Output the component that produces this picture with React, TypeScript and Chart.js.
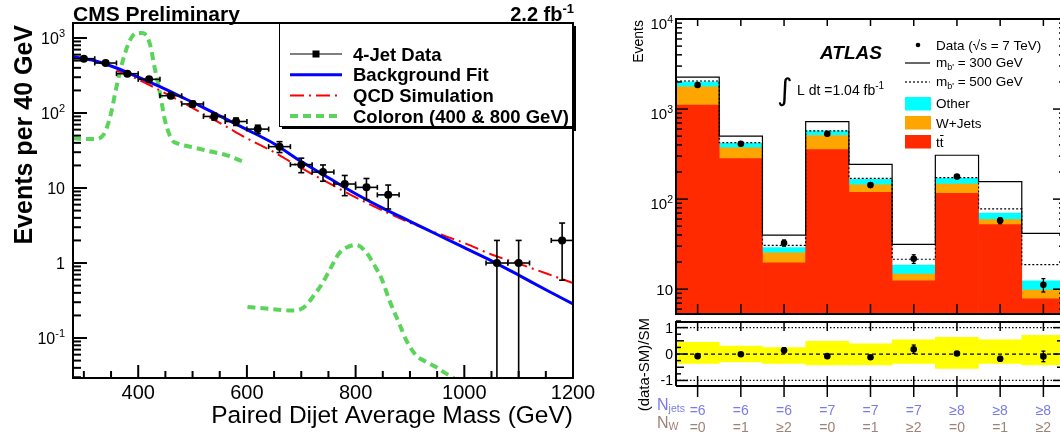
import React, { useEffect, useRef } from 'react';
import { Chart, registerables } from 'chart.js';

Chart.register(...registerables);

// ================= CMS panel data =================
const cmsMass = [300, 340, 380, 420, 460, 500, 540, 580, 620, 660, 700, 740, 780, 820, 860, 1060, 1100, 1180];
const cmsEvents = [530, 464, 334, 281, 170, 132, 90, 77, 61, 35.6, 20.5, 16.3, 11.3, 10.2, 8.1, 1, 1, 2];
const cmsEventErr = [23, 21.5, 18.3, 16.8, 13, 11.5, 9.5, 8.8, 7.8, 5.9, 4.5, 4.0, 3.4, 3.2, 2.85, 1, 1, 1.41];
const cmsBinWidth = 40;

const fitMass = [280, 320, 360, 400, 440, 480, 520, 560, 600, 650, 700, 750, 800, 850, 900, 950, 1000, 1050, 1100, 1150, 1200];
const fitEvents = [563, 498, 398, 301, 224, 163, 118, 84, 60, 39, 22.5, 13.7, 8.4, 5.4, 3.6, 2.4, 1.6, 1.07, 0.69, 0.44, 0.284];

const qcdMass = [360, 400, 440, 480, 520, 560, 600, 650, 700, 750, 800, 850, 900, 950, 1000, 1050, 1100, 1150, 1200];
const qcdEvents = [370, 280, 200, 140, 97, 67, 46, 30, 18.5, 11.7, 7.5, 5.0, 3.45, 2.5, 1.85, 1.3, 0.98, 0.73, 0.54];

const coloron400Mass = [280, 300, 320, 335, 348, 360, 372, 385, 397, 408, 421, 430, 440, 449, 462, 476, 500, 530, 562, 596];
const coloron400Events = [46, 45, 45, 50, 87, 222, 508, 940, 1170, 1170, 855, 410, 185, 81, 44, 38.5, 35, 31, 27.5, 22];

const coloron800Mass = [601, 640, 685, 706, 722, 739, 755, 770, 785, 801, 819, 834, 849, 862, 880, 893, 911, 930, 948, 965, 978, 992];
const coloron800Events = [0.26, 0.245, 0.232, 0.26, 0.36, 0.54, 0.88, 1.36, 1.63, 1.74, 1.4, 0.95, 0.59, 0.32, 0.158, 0.094, 0.059, 0.048, 0.041, 0.034, 0.03, 0.025];

const cmsMassRange = [280, 1200];
const cmsEventRange = [0.0293, 1585];
const cmsTitle = 'CMS Preliminary';
const cmsLumi = '2.2 fb';
const cmsLumiExp = '-1';
const cmsXTitle = 'Paired Dijet Average Mass (GeV)';
const cmsYTitle = 'Events per 40 GeV';

// ================= ATLAS panel data =================
const nJets = ['=6', '=6', '=6', '=7', '=7', '=7', '≥8', '≥8', '≥8'];
const nW = ['=0', '=1', '≥2', '=0', '=1', '≥2', '=0', '=1', '≥2'];
const ttbar = [1107, 282, 19.6, 354, 119, 12.4, 116, 52, 7.8];
const wJets = [653, 88, 5.7, 155, 25, 2.3, 31, 7.3, 2.0];
const otherBkg = [240, 47, 3.7, 60, 22, 3.8, 23, 10.7, 2.6];
const sig300 = [2265, 501, 39.9, 724, 242.5, 31.5, 307, 156, 41.6];
const sig500 = [2048, 423, 30.7, 573, 170, 21.5, 173, 78, 18.7];
const atlasData = [1850, 412, 32.6, 531, 143, 21.7, 178, 57.8, 11.2];
const atlasDataErr = [30, 14, 2.6, 16, 8, 2.4, 9, 4.5, 1.9];
const ratioVals = [-0.08, -0.01, 0.14, -0.08, -0.12, 0.18, 0.02, -0.18, -0.09];
const ratioErr = [0.03, 0.04, 0.1, 0.04, 0.06, 0.16, 0.06, 0.09, 0.2];
const bandLo = [-0.36, -0.3, -0.36, -0.41, -0.41, -0.36, -0.54, -0.36, -0.41];
const bandHi = [0.44, 0.3, 0.24, 0.48, 0.39, 0.54, 0.63, 0.54, 0.71];
const atlasEventRange = [5.3, 10000];
const ratioRange = [-1.21, 1.25];
const ratioRefLines = [-1, 0, 1];

// ================= helpers =================
const FONT = '"Liberation Sans", Helvetica, Arial, sans-serif';
const f = (size: number, weight = '', style = '') => `${style} ${weight} ${size}px ${FONT}`.replace(/\s+/g, ' ').trim();

function line(ctx: any, x1: number, y1: number, x2: number, y2: number) {
  ctx.beginPath();
  ctx.moveTo(x1, y1);
  ctx.lineTo(x2, y2);
  ctx.stroke();
}

type Part = { t: string; size: number; weight?: string; style?: string; dy?: number; family?: string };

function drawParts(ctx: any, parts: Part[], x: number, y: number, align: 'left' | 'right' | 'center' = 'left') {
  const fontOf = (p: Part) => (p.family ? `${p.style || ''} ${p.weight || ''} ${p.size}px ${p.family}`.trim() : f(p.size, p.weight || '', p.style || ''));
  const widths = parts.map((p) => {
    ctx.font = fontOf(p);
    return ctx.measureText(p.t).width;
  });
  const total = widths.reduce((s, w) => s + w, 0);
  let cx = align === 'right' ? x - total : align === 'center' ? x - total / 2 : x;
  ctx.textAlign = 'left';
  ctx.textBaseline = 'alphabetic';
  parts.forEach((p, i) => {
    ctx.font = fontOf(p);
    ctx.fillText(p.t, cx, y + (p.dy || 0));
    cx += widths[i];
  });
  return total;
}

function logTicks(scale: any) {
  const out: { v: number; major: boolean; d: number }[] = [];
  const lo = Math.floor(Math.log10(scale.min));
  const hi = Math.ceil(Math.log10(scale.max));
  for (let d = lo; d <= hi; d++) {
    for (let m = 1; m <= 9; m++) {
      const v = m * Math.pow(10, d);
      if (v >= scale.min * 0.9999 && v <= scale.max * 1.0001) out.push({ v, major: m === 1, d });
    }
  }
  return out;
}

function powerLabel(d: number, size: number, supSize: number, raise: number): Part[] {
  if (d === 0) return [{ t: '1', size }];
  if (d === 1) return [{ t: '10', size }];
  return [{ t: '10', size }, { t: String(d), size: supSize, dy: -raise }];
}

function rotatedText(ctx: any, text: string, font: string, baseX: number, endY: number) {
  ctx.save();
  ctx.translate(baseX, endY);
  ctx.rotate(-Math.PI / 2);
  ctx.font = font;
  ctx.textAlign = 'right';
  ctx.textBaseline = 'alphabetic';
  ctx.fillText(text, 0, 0);
  ctx.restore();
}

function drawErrorBars(chart: any, lw: number, capY: number, capX: number) {
  const { ctx, chartArea: a } = chart;
  chart.data.datasets.forEach((ds: any, di: number) => {
    if (!ds.errY) return;
    const meta = chart.getDatasetMeta(di);
    const ys = chart.scales[meta.yAxisID];
    const xs = chart.scales[meta.xAxisID];
    ctx.save();
    ctx.beginPath();
    ctx.rect(a.left, a.top, a.right - a.left, a.bottom - a.top);
    ctx.clip();
    ctx.strokeStyle = '#000';
    ctx.lineWidth = lw;
    meta.data.forEach((pt: any, i: number) => {
      const raw = ds.data[i];
      const v = typeof raw === 'number' ? raw : raw.y;
      const e = ds.errY[i];
      const yTop = ys.getPixelForValue(v + e);
      const low = v - e;
      const yBot = ys.type === 'logarithmic' && low <= 0 ? a.bottom + 4 : ys.getPixelForValue(low);
      line(ctx, pt.x, yTop, pt.x, yBot);
      if (capY > 0) {
        line(ctx, pt.x - capY, yTop, pt.x + capY, yTop);
        line(ctx, pt.x - capY, yBot, pt.x + capY, yBot);
      }
      if (ds.errX) {
        const xl = xs.getPixelForValue(raw.x - ds.errX / 2);
        const xr = xs.getPixelForValue(raw.x + ds.errX / 2);
        line(ctx, xl, pt.y, xr, pt.y);
        line(ctx, xl, pt.y - capX, xl, pt.y + capX);
        line(ctx, xr, pt.y - capX, xr, pt.y + capX);
      }
    });
    ctx.restore();
  });
}

const pairs = (xs: number[], ys: number[]) => xs.map((x, i) => ({ x, y: ys[i] }));
const stepPoints = (vals: number[]) => [...vals.map((v, i) => ({ x: i, y: v })), { x: vals.length, y: vals[vals.length - 1] }];

// ================= CMS chart =================
const cmsPlugin = {
  id: 'cmsDecor',
  afterDatasetsDraw(chart: any) {
    drawErrorBars(chart, 1.6, 3, 2.5);
  },
  afterDraw(chart: any) {
    const { ctx, chartArea: a } = chart;
    const x = chart.scales.x;
    const y = chart.scales.y;
    ctx.save();
    ctx.strokeStyle = '#000';
    ctx.fillStyle = '#000';
    ctx.lineWidth = 2;
    ctx.strokeRect(a.left, a.top, a.right - a.left, a.bottom - a.top);

    for (let v = Math.ceil(x.min / 50) * 50; v <= x.max; v += 50) {
      const px = x.getPixelForValue(v);
      const major = v % 200 === 0;
      line(ctx, px, a.bottom, px, a.bottom - (major ? 13 : 7));
      if (major) drawParts(ctx, [{ t: String(v), size: 20 }], px, a.bottom + 21, 'center');
    }
    for (const t of logTicks(y)) {
      const py = y.getPixelForValue(t.v);
      line(ctx, a.left, py, a.left + (t.major ? 14 : 8), py);
      if (t.major) drawParts(ctx, powerLabel(t.d, 16, 11, 7), a.left - 8, py + 6, 'right');
    }

    drawParts(ctx, [{ t: cmsTitle, size: 21, weight: 'bold' }], a.left, 21, 'left');
    drawParts(ctx, [{ t: cmsLumi, size: 20, weight: 'bold' }, { t: cmsLumiExp, size: 13, weight: 'bold', dy: -8 }], a.right + 1, 21, 'right');
    drawParts(ctx, [{ t: cmsXTitle, size: 24.5 }], a.right, 423, 'right');
    rotatedText(ctx, cmsYTitle, f(25, 'bold'), 32, a.top + 2);

    const L = { left: 279, top: 23, right: 573, bottom: 127 };
    ctx.fillStyle = '#fff';
    ctx.fillRect(L.left, L.top, L.right - L.left, L.bottom - L.top);
    ctx.strokeStyle = '#000';
    ctx.lineWidth = 1;
    ctx.strokeRect(L.left + 0.5, L.top + 0.5, L.right - L.left - 1, L.bottom - L.top - 1);
    ctx.fillStyle = '#000';
    ctx.fillRect(L.left + 3, L.bottom - 1, L.right - L.left, 3);
    ctx.fillRect(L.right - 1, L.top + 3, 4, L.bottom - L.top + 1);

    const entries = chart.data.datasets.filter((d: any) => d.inLegend !== false);
    const rows = [54, 74.7, 95.4, 116.1];
    entries.forEach((ds: any, i: number) => {
      const cy = rows[i];
      ctx.save();
      if (ds.isData) {
        ctx.strokeStyle = '#000';
        ctx.lineWidth = 1;
        line(ctx, 290, cy, 342, cy);
        ctx.fillStyle = '#000';
        ctx.fillRect(316 - 3.5, cy - 3.5, 7, 7);
      } else {
        ctx.strokeStyle = ds.borderColor;
        ctx.lineWidth = ds.borderWidth;
        ctx.setLineDash(ds.borderDash || []);
        line(ctx, 290, cy, 342, cy);
      }
      ctx.restore();
      ctx.fillStyle = '#000';
      drawParts(ctx, [{ t: ds.label, size: 18.5, weight: 'bold' }], 353, cy + 6.5, 'left');
    });
    ctx.restore();
  },
};

function buildCmsConfig(): any {
  const green = 'rgb(90, 212, 90)';
  return {
    type: 'line',
    data: {
      datasets: [
        {
          label: '4-Jet Data', isData: true, data: pairs(cmsMass, cmsEvents), errY: cmsEventErr, errX: cmsBinWidth,
          showLine: false, pointRadius: 4, pointBackgroundColor: '#000', pointBorderWidth: 0, borderColor: '#000', order: 0,
        },
        {
          label: 'Background Fit', data: pairs(fitMass, fitEvents), borderColor: '#0000ff', borderWidth: 3,
          pointRadius: 0, cubicInterpolationMode: 'monotone', order: 1,
        },
        {
          label: 'QCD Simulation', data: pairs(qcdMass, qcdEvents), borderColor: '#ff0000', borderWidth: 2,
          borderDash: [14, 5, 2, 5], pointRadius: 0, cubicInterpolationMode: 'monotone', order: 2,
        },
        {
          label: 'Coloron (400 & 800 GeV)', data: pairs(coloron400Mass, coloron400Events), borderColor: green,
          borderWidth: 4, borderDash: [8, 5], pointRadius: 0, cubicInterpolationMode: 'monotone', order: 3,
        },
        {
          label: 'Coloron (800 GeV)', inLegend: false, data: pairs(coloron800Mass, coloron800Events), borderColor: green,
          borderWidth: 4, borderDash: [8, 5], pointRadius: 0, cubicInterpolationMode: 'monotone', order: 3,
        },
      ],
    },
    options: {
      responsive: false,
      animation: false,
      events: [],
      layout: { padding: { left: 73, top: 23, right: 27, bottom: 57 } },
      scales: {
        x: { type: 'linear', min: cmsMassRange[0], max: cmsMassRange[1], display: false },
        y: { type: 'logarithmic', min: cmsEventRange[0], max: cmsEventRange[1], display: false },
      },
      plugins: { legend: { display: false }, tooltip: { enabled: false } },
    },
    plugins: [cmsPlugin],
  };
}

// ================= ATLAS main =================
const atlasMainPlugin = {
  id: 'atlasMain',
  afterDatasetsDraw(chart: any) {
    drawErrorBars(chart, 1.3, 2, 0);
  },
  afterDraw(chart: any) {
    const { ctx, chartArea: a } = chart;
    const x = chart.scales.x;
    const y = chart.scales.y;
    ctx.save();
    ctx.strokeStyle = '#000';
    ctx.fillStyle = '#000';
    ctx.lineWidth = 2;
    ctx.strokeRect(a.left, a.top, a.right - a.left, a.bottom - a.top);
    ctx.lineWidth = 1.5;
    chart.data.labels.forEach((_: any, i: number) => {
      const px = x.getPixelForValue(i);
      line(ctx, px, a.top, px, a.top + 7);
      line(ctx, px, a.bottom - 10, px, a.bottom);
    });
    for (const t of logTicks(y)) {
      const py = y.getPixelForValue(t.v);
      const len = t.major ? 12 : 6;
      line(ctx, a.left, py, a.left + len, py);
      line(ctx, a.right - len, py, a.right, py);
      if (t.major) {
        const parts = powerLabel(t.d, 15, 10.5, 6);
        drawParts(ctx, parts, a.left - 3, py + 5.5 + (parts.length > 1 ? 4 : 0), 'right');
      }
    }
    rotatedText(ctx, 'Events', f(14), 43, 20);

    drawParts(ctx, [{ t: 'ATLAS', size: 19, weight: 'bold', style: 'italic' }], 220, 59, 'left');
    drawParts(ctx, [{ t: '∫', size: 30, family: '"DejaVu Sans", sans-serif' }], 177, 100, 'left');
    drawParts(ctx, [{ t: 'L dt =1.04 fb', size: 14 }, { t: '-1', size: 10, dy: -6 }], 197, 95, 'left');

    const ds = chart.data.datasets;
    const byKey = (k: string) => ds.find((d: any) => d.key === k);
    const tx = 336;
    const dd = byKey('data');
    ctx.beginPath();
    ctx.arc(318, 45, 2.3, 0, Math.PI * 2);
    ctx.fill();
    drawParts(ctx, [{ t: dd.label, size: 13.5 }], tx, 50, 'left');
    [['s300', 63, 67], ['s500', 82, 86]].forEach(([k, ly, by]: any) => {
      const s = byKey(k);
      ctx.save();
      ctx.lineWidth = 1.2;
      ctx.setLineDash(s.borderDash || []);
      line(ctx, 305, ly, 330, ly);
      ctx.restore();
      const m = /^([^_]*)_(\S+)(.*)$/.exec(s.label);
      if (m) drawParts(ctx, [{ t: m[1], size: 13.5 }, { t: m[2], size: 9, dy: 3 }, { t: m[3], size: 13.5 }], tx, by, 'left');
    });
    [['other', 97, 108], ['wjets', 116, 127.5], ['tt', 135, 147]].forEach(([k, by, tb]: any) => {
      const s = byKey(k);
      ctx.fillStyle = s.backgroundColor;
      ctx.fillRect(305, by, 26, 13.5);
      ctx.fillStyle = '#000';
      if (s.label.includes('\u0304')) {
        const plain = s.label.replace('\u0304', '');
        drawParts(ctx, [{ t: plain, size: 13.5 }], tx, tb, 'left');
        ctx.font = f(13.5);
        const wt = ctx.measureText('t').width;
        ctx.strokeStyle = '#000';
        ctx.lineWidth = 1;
        line(ctx, tx + wt + 0.3, tb - 11.5, tx + 2 * wt, tb - 11.5);
      } else {
        drawParts(ctx, [{ t: s.label, size: 13.5 }], tx, tb, 'left');
      }
    });
    ctx.restore();
  },
};

function buildMainConfig(): any {
  const labels = nJets.map((n, i) => `Njets ${n}, NW ${nW[i]}`);
  const barOpts = { stack: 'sm', grouped: false, barPercentage: 1, categoryPercentage: 1, borderWidth: 0, order: 3 };
  return {
    type: 'bar',
    data: {
      labels,
      datasets: [
        { key: 'tt', type: 'bar', label: 'tt\u0304', data: ttbar, backgroundColor: '#ff2a00', ...barOpts },
        { key: 'wjets', type: 'bar', label: 'W+Jets', data: wJets, backgroundColor: '#ffa500', ...barOpts },
        { key: 'other', type: 'bar', label: 'Other', data: otherBkg, backgroundColor: '#00ffff', ...barOpts },
        { key: 's300', type: 'line', label: "m_b' = 300 GeV", data: stepPoints(sig300), xAxisID: 'xs', stack: 's300', stepped: true, borderColor: '#000', borderWidth: 1.2, pointRadius: 0, order: 2 },
        { key: 's500', type: 'line', label: "m_b' = 500 GeV", data: stepPoints(sig500), xAxisID: 'xs', stack: 's500', stepped: true, borderColor: '#000', borderWidth: 1.2, borderDash: [2, 2], pointRadius: 0, order: 1 },
        { key: 'data', type: 'line', label: 'Data (√s = 7 TeV)', data: atlasData, errY: atlasDataErr, xAxisID: 'x', stack: 'data', showLine: false, pointRadius: 3.3, pointBackgroundColor: '#000', pointBorderWidth: 0, borderColor: '#000', order: 0 },
      ],
    },
    options: {
      responsive: false,
      animation: false,
      events: [],
      layout: { padding: { left: 76, top: 19, right: 15, bottom: 1 } },
      scales: {
        x: { type: 'category', offset: true, stacked: true, display: false },
        xs: { type: 'linear', axis: 'x', position: 'bottom', offset: false, min: 0, max: labels.length, display: false },
        y: { type: 'logarithmic', min: atlasEventRange[0], max: atlasEventRange[1], stacked: true, display: false },
      },
      plugins: { legend: { display: false }, tooltip: { enabled: false } },
    },
    plugins: [atlasMainPlugin],
  };
}

// ================= ATLAS ratio =================
const atlasRatioPlugin = {
  id: 'atlasRatio',
  afterDatasetDraw(chart: any, args: any) {
    if (args.index !== 0) return;
    const { ctx, chartArea: a } = chart;
    const y = chart.scales.y;
    ctx.save();
    ctx.strokeStyle = '#000';
    ctx.lineWidth = 1.2;
    for (const v of ratioRefLines) {
      const py = y.getPixelForValue(v);
      ctx.setLineDash(v === 0 ? [4, 3] : [1.5, 2]);
      line(ctx, a.left, py, a.right, py);
    }
    ctx.restore();
  },
  afterDatasetsDraw(chart: any) {
    drawErrorBars(chart, 1.3, 2, 0);
  },
  afterDraw(chart: any) {
    const { ctx, chartArea: a } = chart;
    const x = chart.scales.x;
    const y = chart.scales.y;
    ctx.save();
    ctx.strokeStyle = '#000';
    ctx.fillStyle = '#000';
    ctx.lineWidth = 2;
    line(ctx, a.left, a.top + 1, a.right, a.top + 1);
    line(ctx, a.left, a.bottom, a.right, a.bottom);
    line(ctx, a.left, a.top, a.left, a.bottom);
    line(ctx, a.right, a.top, a.right, a.bottom);
    ctx.lineWidth = 1.5;
    chart.data.labels.forEach((_: any, i: number) => {
      const px = x.getPixelForValue(i);
      line(ctx, px, a.top, px, a.top + 10);
      line(ctx, px, a.bottom - 10, px, a.bottom + 11);
    });
    for (let k = Math.ceil(y.min / 0.25); k * 0.25 <= y.max; k++) {
      const v = k * 0.25;
      const py = y.getPixelForValue(v);
      const len = k % 4 === 0 ? 12 : k % 2 === 0 ? 8 : 5;
      line(ctx, a.left, py, a.left + len, py);
      line(ctx, a.right - len, py, a.right, py);
      if (k % 4 === 0) drawParts(ctx, [{ t: String(v), size: 14 }], a.left - 3, py + 5, 'right');
    }
    rotatedText(ctx, '(data-SM)/SM', f(15), 49, 1);

    const c1 = 'rgb(122, 122, 232)';
    const c2 = 'rgb(158, 130, 118)';
    ctx.fillStyle = c1;
    drawParts(ctx, [{ t: 'N', size: 16 }, { t: 'jets', size: 10.5, dy: 2 }], 57, 93, 'left');
    nJets.forEach((t, i) => drawParts(ctx, [{ t, size: 14 }], x.getPixelForValue(i), 98, 'center'));
    ctx.fillStyle = c2;
    drawParts(ctx, [{ t: 'N', size: 16 }, { t: 'W', size: 10.5, dy: 2 }], 57, 111, 'left');
    nW.forEach((t, i) => drawParts(ctx, [{ t, size: 14 }], x.getPixelForValue(i), 115, 'center'));
    ctx.restore();
  },
};

function buildRatioConfig(): any {
  const labels = nJets.map((n, i) => `Njets ${n}, NW ${nW[i]}`);
  return {
    type: 'bar',
    data: {
      labels,
      datasets: [
        { type: 'bar', label: 'SM uncertainty', data: bandLo.map((lo, i) => [lo, bandHi[i]]), backgroundColor: '#ffff00', grouped: false, barPercentage: 1, categoryPercentage: 1, order: 1 },
        { type: 'line', label: '(data-SM)/SM', data: ratioVals, errY: ratioErr, showLine: false, pointRadius: 3.3, pointBackgroundColor: '#000', pointBorderWidth: 0, borderColor: '#000', order: 0 },
      ],
    },
    options: {
      responsive: false,
      animation: false,
      events: [],
      layout: { padding: { left: 76, top: 0, right: 15, bottom: 49 } },
      scales: {
        x: { type: 'category', offset: true, display: false },
        y: { type: 'linear', min: ratioRange[0], max: ratioRange[1], display: false },
      },
      plugins: { legend: { display: false }, tooltip: { enabled: false } },
    },
    plugins: [atlasRatioPlugin],
  };
}

export default function App() {
  const cmsRef = useRef<HTMLCanvasElement>(null);
  const mainRef = useRef<HTMLCanvasElement>(null);
  const ratioRef = useRef<HTMLCanvasElement>(null);

  useEffect(() => {
    const charts = [
      new Chart(cmsRef.current as HTMLCanvasElement, buildCmsConfig()),
      new Chart(mainRef.current as HTMLCanvasElement, buildMainConfig()),
      new Chart(ratioRef.current as HTMLCanvasElement, buildRatioConfig()),
    ];
    return () => charts.forEach((c) => c.destroy());
  }, []);

  return (
    <div style={{ position: 'absolute', left: 0, top: 0, width: 1060, height: 435, overflow: 'hidden', background: '#fff' }}>
      <canvas ref={cmsRef} width={600} height={435} style={{ position: 'absolute', left: 0, top: 0 }} />
      <canvas ref={mainRef} width={480} height={318} style={{ position: 'absolute', left: 600, top: 0 }} />
      <canvas ref={ratioRef} width={480} height={118} style={{ position: 'absolute', left: 600, top: 317 }} />
    </div>
  );
}
